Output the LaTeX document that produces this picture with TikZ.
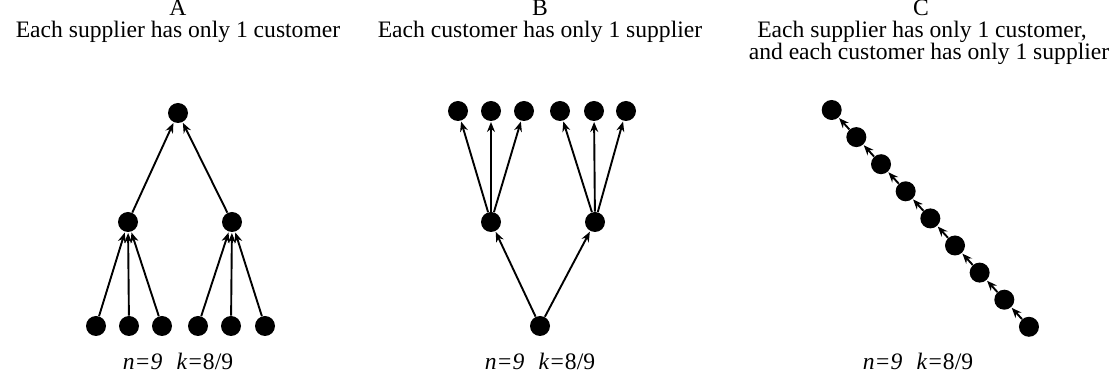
\documentclass[tikz,border=0pt]{standalone}
\usepackage{fontspec}
\setmainfont{Liberation Serif}
\usetikzlibrary{arrows.meta}
\begin{document}
\begin{tikzpicture}[x=0.5pt,y=-0.5pt,
  dot/.style={circle,fill=black,inner sep=0pt,minimum size=10pt},
  arr/.style={-{Stealth[length=5pt,width=4pt]},line width=0.95pt,shorten >=0.3pt},
  lbl/.style={font=\fontsize{11.8}{14}\selectfont,inner sep=0pt,anchor=base}]
\useasboundingbox (0,0) rectangle (1116,379);
% titles
\node[lbl] (tA) at (178,16) {A};
\node[lbl] (sA) at (178,38) {Each supplier has only 1 customer};
\node[lbl] (tB) at (540,16) {B};
\node[lbl] (sB) at (540,38) {Each customer has only 1 supplier};
\node[lbl] (tC) at (921,16) {C};
\node[lbl] (sC1) at (922,38) {Each supplier has only 1 customer,};
\node[lbl] (sC2) at (929,60) {and each customer has only 1 supplier};
\node[lbl] (bA) at (178,370) {\itshape n=9\hspace{0.6em}k=\upshape 8/9};
\node[lbl] (bB) at (540,370) {\itshape n=9\hspace{0.6em}k=\upshape 8/9};
\node[lbl] (bC) at (918,370) {\itshape n=9\hspace{0.6em}k=\upshape 8/9};
% Panel A
\node[dot] (a0) at (178,113) {};
\node[dot] (a1) at (128,222) {};
\node[dot] (a2) at (232,222) {};
\foreach \i/\x in {1/96,2/129,3/162,4/198,5/231,6/265}
  \node[dot] (ab\i) at (\x,326) {};
\draw[arr] (a1) -- (a0);
\draw[arr] (a2) -- (a0);
\foreach \i in {1,2,3} \draw[arr] (ab\i) -- (a1);
\foreach \i in {4,5,6} \draw[arr] (ab\i) -- (a2);
% Panel B
\node[dot] (b0) at (540,326) {};
\node[dot] (b1) at (491,222) {};
\node[dot] (b2) at (595,222) {};
\foreach \i/\x in {1/458,2/491,3/524,4/560,5/594,6/626}
  \node[dot] (bt\i) at (\x,111) {};
\draw[arr] (b0) -- (b1);
\draw[arr] (b0) -- (b2);
\foreach \i in {1,2,3} \draw[arr] (b1) -- (bt\i);
\foreach \i in {4,5,6} \draw[arr] (b2) -- (bt\i);
% Panel C
\foreach \i in {0,...,8}
  \node[dot] (c\i) at ({831.7+\i*24.66},{110+\i*27.1}) {};
\foreach \i [evaluate=\i as \j using int(\i+1)] in {0,...,7}
  \draw[arr] (c\j) -- (c\i);
\end{tikzpicture}
\end{document}
